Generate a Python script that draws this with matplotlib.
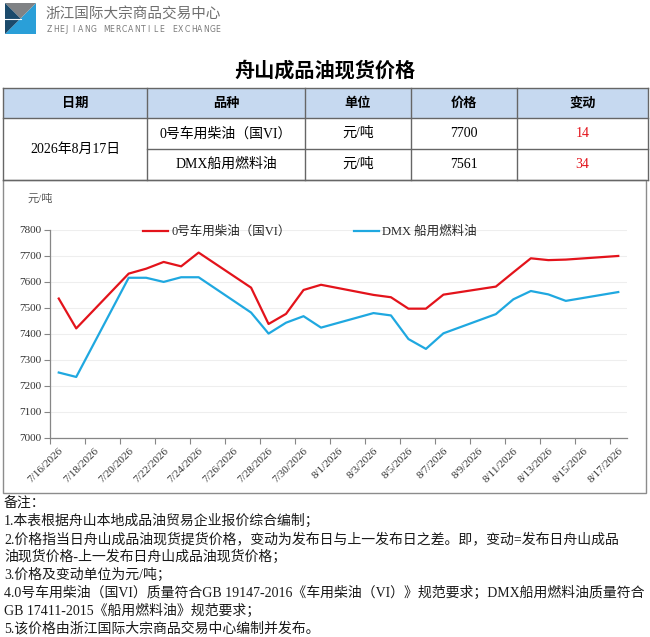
import numpy as np
import pandas as pd
import matplotlib
matplotlib.use('Agg')
import matplotlib.pyplot as plt
import matplotlib.dates as mdates
from matplotlib.patches import Rectangle, Polygon

# ---- data ----
dates = ['2026-07-16', '2026-07-17', '2026-07-20', '2026-07-21', '2026-07-22',
         '2026-07-23', '2026-07-24', '2026-07-27', '2026-07-28', '2026-07-29',
         '2026-07-30', '2026-07-31', '2026-08-03', '2026-08-04', '2026-08-05',
         '2026-08-06', '2026-08-07', '2026-08-10', '2026-08-11', '2026-08-12',
         '2026-08-13', '2026-08-14', '2026-08-17']
diesel = [7536, 7421, 7632, 7651, 7677, 7660, 7713, 7578, 7438, 7477, 7569, 7589,
          7550, 7541, 7497, 7497, 7551, 7582, 7637, 7691, 7684, 7686, 7700]
dmx = [7251, 7234, 7616, 7616, 7600, 7618, 7618, 7482, 7401, 7443, 7468, 7424,
       7480, 7471, 7380, 7342, 7402, 7476, 7533, 7565, 7552, 7527, 7561]
series_names = ['0号车用柴油（国VI）', 'DMX 船用燃料油']
yticks = np.arange(7000, 7801, 100)

table_head = ['日期', '品种', '单位', '价格', '变动']
table_date = '2026年8月17日'
products = ['0号车用柴油（国VI）', 'DMX船用燃料油']
units = ['元/吨', '元/吨']
prices = [7700, 7561]
changes = [14, 34]

title = '舟山成品油现货价格'
org_cn = '浙江国际大宗商品交易中心'
org_en = 'ZHEJIANG MERCANTILE EXCHANGE'
notes = ['备注：',
         '1.本表根据舟山本地成品油贸易企业报价综合编制；',
         '2.价格指当日舟山成品油现货提货价格，变动为发布日与上一发布日之差。即，变动=发布日舟山成品',
         '油现货价格-上一发布日舟山成品油现货价格；',
         '3.价格及变动单位为元/吨；',
         '4.0号车用柴油（国VI）质量符合GB 19147-2016《车用柴油（VI）》规范要求；DMX船用燃料油质量符合',
         'GB 17411-2015《船用燃料油》规范要求；',
         '5.该价格由浙江国际大宗商品交易中心编制并发布。']

SERIF = ['Liberation Serif', 'Noto Sans CJK SC']
SANS = ['Noto Sans CJK SC', 'DejaVu Sans']
plt.rcParams['font.family'] = SERIF

RED = '#E3131B'
BLUE = '#1FA8E0'

W, H = 650, 637
fig = plt.figure(figsize=(W / 100, H / 100), dpi=100)
fig.patch.set_facecolor('white')

# overlay in pixel coordinates for header, table, notes
bg = fig.add_axes([0, 0, 1, 1])
bg.set_xlim(0, W)
bg.set_ylim(H, 0)
bg.axis('off')

# logo
bg.add_patch(Polygon([(36, 3), (36, 34), (5, 34)], closed=True, fc='#2A9FD8', ec='none'))
bg.add_patch(Polygon([(5, 3), (36, 3), (20.5, 18.5)], closed=True, fc='#808285', ec='none'))
bg.add_patch(Polygon([(5, 3), (20.5, 18.5), (5, 34)], closed=True, fc='#1B4A6B', ec='none'))
bg.plot([5, 20.5], [18.5, 18.5], color='white', lw=0.8)
bg.text(46, 15, org_cn, family=SANS, fontsize=10.5, color='#6E6E6E', va='center', ha='left')
for i, ch in enumerate(org_en):
    bg.text(47 + i * 6.25, 30, ch, family=['DejaVu Sans'], fontsize=5.6,
            color='#7A7A7A', va='center', ha='left')

bg.text(325, 70, title, family=SANS, fontsize=14.5, fontweight='bold', ha='center', va='center')

# table
col_edges = [3, 147, 305, 411, 517, 648]
row_edges = [88, 118, 149, 180]
bg.add_patch(Rectangle((col_edges[0], row_edges[0]), col_edges[-1] - col_edges[0],
                       row_edges[1] - row_edges[0], fc='#C6D9F0', ec='none'))
lc = '#666666'
for y in (row_edges[0], row_edges[1], row_edges[3]):
    bg.plot([col_edges[0], col_edges[-1]], [y, y], color=lc, lw=1)
bg.plot([col_edges[1], col_edges[-1]], [row_edges[2], row_edges[2]], color=lc, lw=1)
for x in col_edges:
    bg.plot([x, x], [row_edges[0], row_edges[3]], color=lc, lw=1)

centers = [(col_edges[i] + col_edges[i + 1]) / 2 for i in range(5)]
for cx, txt in zip(centers, table_head):
    bg.text(cx, (row_edges[0] + row_edges[1]) / 2, txt, family=SANS, fontsize=9.5,
            fontweight='bold', ha='center', va='center')
bg.text(centers[0], (row_edges[1] + row_edges[3]) / 2, table_date, fontsize=10,
        ha='center', va='center')
for r in range(2):
    cy = (row_edges[r + 1] + row_edges[r + 2]) / 2
    bg.text(centers[1], cy, products[r], fontsize=10, ha='center', va='center')
    bg.text(centers[2], cy, units[r], fontsize=10, ha='center', va='center')
    bg.text(centers[3], cy, str(prices[r]), fontsize=10, ha='center', va='center')
    bg.text(centers[4], cy, str(changes[r]), fontsize=10, ha='center', va='center', color=RED)

# chart frame
bg.add_patch(Rectangle((3, 180), 643, 313, fill=False, ec='#8C8C8C', lw=1))
bg.text(27, 199, '元/吨', fontsize=8, color='#595959', ha='left', va='center')

# notes
for i, line in enumerate(notes):
    bg.text(4, 503 + i * 18, line, fontsize=10, color='#1A1A1A', ha='left', va='center')

# ---- line chart ----
ax = fig.add_axes([50 / W, 1 - 437.7 / H, 577 / W, 207.7 / H])
ax.patch.set_alpha(0)
d = pd.to_datetime(dates)
x = mdates.date2num(d)
ax.plot(x, diesel, color=RED, lw=1.6, label=series_names[0])
ax.plot(x, dmx, color=BLUE, lw=1.6, label=series_names[1])

all_days = pd.date_range(d[0], d[-1], freq='D')
label_days = all_days[::2]
xd = mdates.date2num(all_days)
xl = mdates.date2num(label_days)
ax.set_xlim(xd[0] - 0.5, xd[-1] + 0.5)
ax.set_xticks(xl - 0.5)
ax.set_xticklabels([])
ax.set_xticks(xl, [f'{t.month}/{t.day}/{t.year}' for t in label_days], minor=True)
ax.tick_params(axis='x', which='major', length=4, color='#868686', direction='out')
ax.tick_params(axis='x', which='minor', length=0, pad=6, labelsize=8, labelcolor='#333333')
for lab in ax.get_xticklabels(minor=True):
    lab.set_rotation(45)
    lab.set_ha('right')
    lab.set_rotation_mode('anchor')

ax.set_ylim(7000, 7800)
ax.set_yticks(yticks)
ax.tick_params(axis='y', length=4, color='#868686', pad=2, labelsize=8, labelcolor='#333333')
ax.grid(axis='y', color='#EEEEEE', lw=0.8)
ax.set_axisbelow(True)
for s in ('top', 'right'):
    ax.spines[s].set_visible(False)
for s in ('left', 'bottom'):
    ax.spines[s].set_color('#868686')
    ax.spines[s].set_linewidth(0.9)

leg = ax.legend(ncol=2, frameon=False, loc='center left',
                bbox_to_anchor=(143 / W, 1 - 232 / H), bbox_transform=fig.transFigure,
                borderpad=0, borderaxespad=0, handlelength=2.0, handletextpad=0.3,
                columnspacing=5.0, fontsize=9)
for t in leg.get_texts():
    t.set_color('#262626')

fig.savefig('out.png', dpi=100, facecolor='white')
